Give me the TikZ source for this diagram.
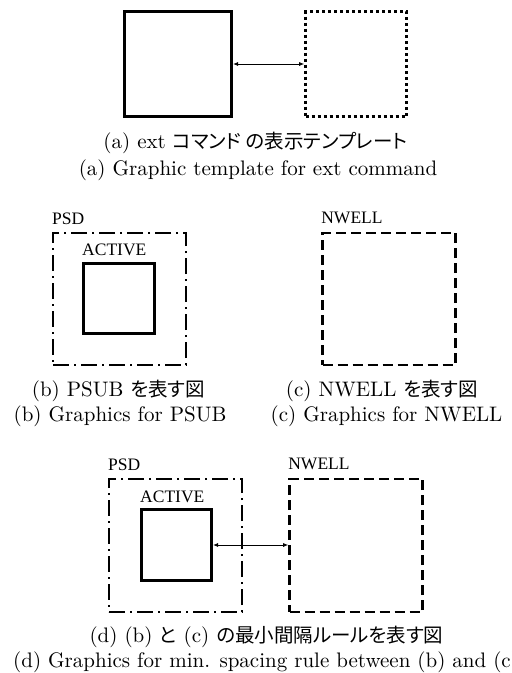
\documentclass[tikz,border=0pt]{standalone}
\usepackage{fontspec}
\setmainfont{lmroman10-regular.otf}
\newfontfamily\jafont{Noto Sans CJK JP}[RawFeature=+palt]
\newfontfamily\layerfont{Liberation Serif}
\usetikzlibrary{arrows.meta, positioning}

% Japanese text inside captions
\newcommand{\jtext}[1]{{\jafont\fontsize{19.5}{24}\selectfont #1}}

\begin{document}
\begin{tikzpicture}[
        x=1pt,
        y=-1pt,
        font=\fontsize{21}{24}\selectfont,
        layerbox/.style={
            draw=black,
            inner sep=0pt
        },
        activebox/.style={
            layerbox,
            line width=3pt
        },
        dottedbox/.style={
            layerbox,
            line width=2.7pt,
            dash pattern=on 3pt off 3pt
        },
        psdbox/.style={
            layerbox,
            line width=2pt,
            dash pattern=on 16pt off 5pt on 2pt off 5pt
        },
        nwellbox/.style={
            layerbox,
            line width=2.7pt,
            dash pattern=on 10pt off 5pt
        },
        layername/.style={
            font=\layerfont\fontsize{17.5}{20}\selectfont,
            inner sep=0pt,
            anchor=base west
        },
        caption/.style={
            inner sep=0pt,
            anchor=base
        },
        gaparrow/.style={
            line width=0.8pt,
            {Latex[length=5pt,width=4pt]}-{Latex[length=5pt,width=4pt]}
        }
    ]

        \useasboundingbox (0,0) rectangle (512,673);

        % (a) Template for ext
        \node[activebox, minimum width=107pt, minimum height=105pt]
            (tmplsolid) at (178,64) {};
        \node[dottedbox, minimum width=101pt, minimum height=105pt]
            (tmpldotted) at (356,64) {};
        \draw[gaparrow] (tmplsolid.east) -- (tmpldotted.west);

        \node[caption] (capaja) at (255.5,148)
            {(a) ext \jtext{コマンド の表示テンプレート}};
        \node[caption] (capaen) at (258,175)
            {(a) Graphic template for ext command};

        % (b) PSUB
        \node[psdbox, minimum width=133pt, minimum height=132pt]
            (psdb) at (119.5,299) {};
        \node[activebox, minimum width=71pt, minimum height=70pt]
            (activeb) at (119,298.5) {};
        \node[layername] (psdnameb) at ([yshift=8pt]psdb.north west) {PSD};
        \node[layername] (activenameb) at ([yshift=7pt]activeb.north west) {ACTIVE};

        \node[caption] (capbja) at (118.5,396)
            {(b) PSUB \jtext{を表す図}};
        \node[caption] (capben) at (120,421)
            {(b) Graphics for PSUB};

        % (c) NWELL
        \node[nwellbox, minimum width=133pt, minimum height=132pt]
            (nwellc) at (389,299) {};
        \node[layername] (nwellnamec) at ([yshift=8pt]nwellc.north west) {NWELL};

        \node[caption] (capcja) at (382,396)
            {(c) NWELL \jtext{を表す図}};
        \node[caption] (capcen) at (386.5,421)
            {(c) Graphics for NWELL};

        % (d) Spacing between ACTIVE and NWELL
        \node[psdbox, minimum width=133pt, minimum height=133pt]
            (psdd) at (175.5,545.5) {};
        \node[activebox, minimum width=70pt, minimum height=71pt]
            (actived) at (176.5,545) {};
        \node[nwellbox, minimum width=133pt, minimum height=133pt]
            (nwelld) at (356,545.5) {};
        \node[layername] (psdnamed) at ([yshift=8pt]psdd.north west) {PSD};
        \node[layername] (activenamed) at ([yshift=6pt]actived.north west) {ACTIVE};
        \node[layername] (nwellnamed) at ([yshift=8pt]nwelld.north west) {NWELL};
        \draw[gaparrow] (actived.east) -- (actived.east -| nwelld.west);

        \node[caption] (capdja) at (266.5,642)
            {(d) (b) \jtext{と} (c) \jtext{の最小間隔ルールを表す図}};
        \node[caption, anchor=base west] (capden) at (13,667)
            {(d) Graphics for min. spacing rule between (b) and (c)};

    \end{tikzpicture}
\end{document}
